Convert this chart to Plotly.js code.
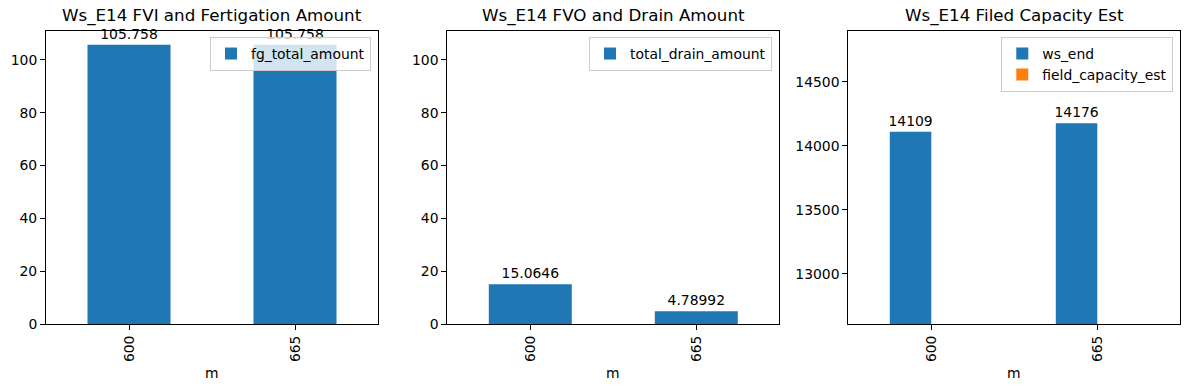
<!DOCTYPE html>
<html>
<head>
<meta charset="utf-8">
<script src="https://cdn.plot.ly/plotly-3.0.1.min.js"></script>
<style>
html,body{margin:0;padding:0;background:#fff;}
#chart{width:1189px;height:390px;}
</style>
</head>
<body>
<div id="chart"></div>
<script>
// Data
var categories = ['600', '665'];
var fgTotalAmount = [105.758, 105.758];
var totalDrainAmount = [15.0646, 4.78992];
var wsEnd = [14109, 14176];
var fieldCapacityEst = [null, null];
var titles = ['Ws_E14 FVI and Fertigation Amount', 'Ws_E14 FVO and Drain Amount', 'Ws_E14 Filed Capacity Est'];
var xLabel = 'm';

var W = 1189, H = 390;
var FONT = 'DejaVu Sans, sans-serif';
var TICK = 13.9, TITLE = 16.7;
var BLUE = '#1f77b4', ORANGE = '#ff7f0e';

// axes pixel boxes
var boxes = [
  {x0: 46, x1: 378},
  {x0: 447.3, x1: 779.3},
  {x0: 848.3, x1: 1180.3}
];
var yTop = 30.7, yBot = 324;
function px(x){ return x / W; }
function py(y){ return (H - y) / H; }

function barTrace(vals, name, color, xa, ya, legend) {
  return {
    type: 'bar', x: categories, y: vals, name: name,
    marker: {color: color, line: {width: 0}},
    xaxis: xa, yaxis: ya, legend: legend,
    text: vals.map(function(v){ return v === null ? '' : String(v); }),
    textposition: 'outside', constraintext: 'none', cliponaxis: false,
    textfont: {family: FONT, size: TICK, color: '#000'},
    hoverinfo: 'x+y'
  };
}

var data = [
  barTrace(fgTotalAmount, 'fg_total_amount', BLUE, 'x', 'y', 'legend'),
  barTrace(totalDrainAmount, 'total_drain_amount', BLUE, 'x2', 'y2', 'legend2'),
  barTrace(wsEnd, 'ws_end', BLUE, 'x3', 'y3', 'legend3'),
  barTrace(fieldCapacityEst, 'field_capacity_est', ORANGE, 'x3', 'y3', 'legend3')
];
data[2].cliponaxis = true;
data[3].cliponaxis = true;

function xaxis(i) {
  return {
    type: 'category', domain: [px(boxes[i].x0), px(boxes[i].x1)],
    anchor: i === 0 ? 'y' : 'y' + (i + 1),
    range: [-0.5, 1.5], showgrid: false, zeroline: false,
    showline: true, mirror: true, linecolor: '#000', linewidth: 1,
    ticks: 'outside', ticklen: 5, tickwidth: 1, tickcolor: '#000',
    tickangle: -90, tickfont: {family: FONT, size: TICK, color: '#000'},
    automargin: false, fixedrange: true
  };
}
function yaxis(i, range, dtick) {
  return {
    domain: [py(yBot), py(yTop)],
    anchor: i === 0 ? 'x' : 'x' + (i + 1),
    range: range, dtick: dtick, tickformat: 'd',
    showgrid: false, zeroline: false,
    showline: true, mirror: true, linecolor: '#000', linewidth: 1,
    ticks: 'outside', ticklen: 5, tickwidth: 1, tickcolor: '#000',
    tickfont: {family: FONT, size: TICK, color: '#000'},
    automargin: false, fixedrange: true
  };
}
function legend(rightPx) {
  return {
    x: px(rightPx), y: py(37), xanchor: 'right', yanchor: 'top',
    bgcolor: 'rgba(255,255,255,0.8)', bordercolor: '#cccccc', borderwidth: 1,
    font: {family: FONT, size: TICK, color: '#000'}
  };
}

var annotations = [];
for (var i = 0; i < 3; i++) {
  var cx = px((boxes[i].x0 + boxes[i].x1) / 2);
  annotations.push({text: titles[i], xref: 'paper', yref: 'paper', x: cx, y: py(16),
    xanchor: 'center', yanchor: 'middle', showarrow: false,
    font: {family: FONT, size: TITLE, color: '#000'}});
  annotations.push({text: xLabel, xref: 'paper', yref: 'paper', x: cx, y: py(372.7),
    xanchor: 'center', yanchor: 'middle', showarrow: false,
    font: {family: FONT, size: TICK, color: '#000'}});
}

var layout = {
  width: W, height: H,
  margin: {l: 0, r: 0, t: 0, b: 0, pad: 0},
  paper_bgcolor: '#fff', plot_bgcolor: '#fff',
  barmode: 'group', bargap: 0.5, bargroupgap: 0,
  font: {family: FONT, size: TICK, color: '#000'},
  xaxis: xaxis(0), xaxis2: xaxis(1), xaxis3: xaxis(2),
  yaxis: yaxis(0, [0, 111.05], 20),
  yaxis2: yaxis(1, [0, 111.05], 20),
  yaxis3: yaxis(2, [12607, 14898], 500),
  legend: legend(371), legend2: legend(772), legend3: legend(1173.3),
  annotations: annotations,
  showlegend: true
};

Plotly.newPlot('chart', data, layout, {displayModeBar: false, staticPlot: true});
</script>
</body>
</html>
